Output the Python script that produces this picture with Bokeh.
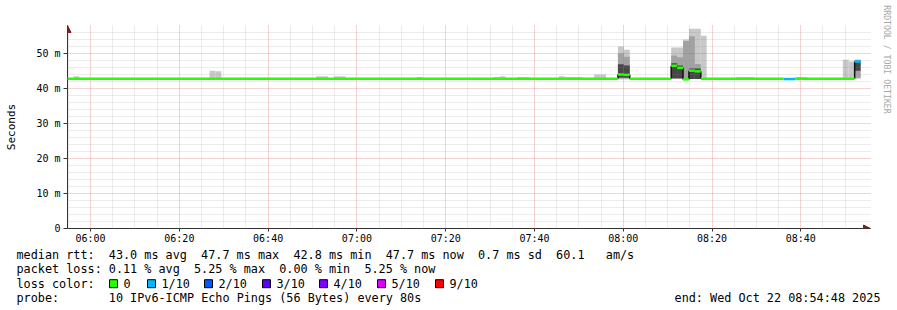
import math
from datetime import datetime, timedelta
from bokeh.plotting import figure
from bokeh.layouts import column, row
from bokeh.models import (Range1d, FixedTicker, DatetimeTickFormatter, Label,
                          Arrow, NormalHead)
from bokeh.core.properties import value
from bokeh.embed import file_html
from bokeh.resources import INLINE

# ---------------- data ----------------
DAY = "2025-10-22"
range_start = "05:54:48"
range_end = "08:54:48"
step_seconds = 80

x_major_ticks = ["06:00", "06:20", "06:40", "07:00", "07:20", "07:40", "08:00", "08:20", "08:40"]
y_major_ticks = [0, 10, 20, 30, 40, 50]
y_tick_labels = ["0", "10 m", "20 m", "30 m", "40 m", "50 m"]

# median rtt (ms), run-length: value holds from time until next entry
median_time = ["05:54:48", "07:58:48", "08:00:08", "08:01:28", "08:10:48", "08:12:08",
               "08:13:28", "08:14:48", "08:16:08", "08:17:28", "08:36:08", "08:38:48",
               "08:52:08"]
median_ms = [42.8, 44.0, 43.9, 42.8, 46.5, 45.9, 42.6, 45.1, 44.9, 42.8, 42.7, 42.8, 47.7]
median_loss = [0, 0, 0, 0, 0, 0, 0, 0, 0, 0, 1, 0, 1]   # lost pings out of 10
median_end = "08:53:28"

# smoke (ping spread) per 80 s step
smoke_time = ["05:56:08", "06:26:48", "06:28:08", "06:50:48", "06:52:08", "06:54:48",
              "06:56:08", "07:13:28", "07:30:48", "07:32:08", "07:36:08", "07:37:28",
              "07:45:28", "07:46:48", "07:48:08", "07:49:28", "07:53:28", "07:54:48",
              "07:58:48", "08:00:08", "08:10:48", "08:12:08", "08:13:28", "08:14:48",
              "08:16:08", "08:17:28", "08:25:28", "08:26:48", "08:28:08", "08:38:48",
              "08:40:08", "08:49:28", "08:50:48", "08:52:08"]
smoke_lo = [42.7, 42.7, 42.7, 42.7, 42.7, 42.7, 42.7, 42.7, 42.7, 42.7, 42.7, 42.7,
            42.7, 42.7, 42.7, 42.7, 42.7, 42.7, 42.6, 42.6, 42.7, 42.7, 42.6, 42.7,
            42.7, 42.8, 42.7, 42.7, 42.7, 42.7, 42.7, 42.8, 42.8, 42.9]
smoke_hi = [43.5, 45.1, 44.9, 43.5, 43.5, 43.5, 43.5, 43.3, 43.3, 43.5, 43.3, 43.3,
            43.5, 43.3, 43.3, 43.3, 44.0, 44.0, 52.0, 51.1, 51.7, 51.7, 54.0, 57.1,
            57.1, 55.1, 43.3, 43.3, 43.3, 43.3, 43.3, 48.2, 47.7, 48.3]
nan = float("nan")
mid_lo = [nan] * 18 + [42.9, 42.9, 42.8, 42.8, 42.7, 43.0, 43.0, nan] + [nan] * 7 + [42.9]
mid_hi = [nan] * 18 + [50.0, 49.1, 49.4, 48.9, 53.6, 54.9, 47.0, nan] + [nan] * 7 + [48.0]
core_lo = [nan] * 18 + [43.1, 43.1, 42.9, 42.9, nan, 42.7, 42.7, nan] + [nan] * 7 + [45.1]
core_hi = [nan] * 18 + [46.9, 46.6, 47.2, 46.6, nan, 45.7, 45.7, nan] + [nan] * 7 + [48.0]

loss_levels = [0, 1, 2, 3, 4, 5, 9]
loss_names = ["0", "1/10", "2/10", "3/10", "4/10", "5/10", "9/10"]
loss_colors = ["#26ff00", "#00b8ff", "#0059ff", "#5e00ff", "#7e00ff", "#dd00ff", "#ff0000"]

rtt_avg, rtt_max, rtt_min, rtt_now, rtt_sd, rtt_ams = 43.0, 47.7, 42.8, 47.7, 0.7, 60.1
loss_avg, loss_max, loss_min, loss_now = 0.11, 5.25, 0.00, 5.25
probe_text = "10 IPv6-ICMP Echo Pings (56 Bytes) every 80s"
end_text = "Wed Oct 22 08:54:48 2025"
title_text = "Last 3 Hours"
y_label = "Seconds"
watermark = "RRDTOOL / TOBI OETIKER"

# ---------------- helpers ----------------
EPOCH = datetime(1970, 1, 1)


def ts(hms):
    return datetime.fromisoformat(f"{DAY}T{hms}")


def ms(dt):
    return (dt - EPOCH).total_seconds() * 1000.0


MONO = "DejaVu Sans Mono"
t0, t1 = ms(ts(range_start)), ms(ts(range_end))
step_ms = step_seconds * 1000.0
PX_PER_MIN = 4.4375                   # horizontal scale (pixels per minute)
x_end = t1 + 4 / PX_PER_MIN * 60000   # frame reaches to the x-axis arrow tip

MAIN_W, MAIN_H = 880, 248
p = figure(width=MAIN_W, height=MAIN_H, x_axis_type="datetime",
           x_range=Range1d(t0, x_end), y_range=Range1d(0, 58),
           output_backend="svg", toolbar_location=None,
           min_border_left=67, min_border_right=10, min_border_top=25, min_border_bottom=20)
p.frame_align = False
p.outline_line_color = None
p.background_fill_color = "#ffffff"
p.border_fill_color = "#ffffff"

# smoke layers
def quads(lo, hi, color):
    L, R, B, T = [], [], [], []
    for t, a, b in zip(smoke_time, lo, hi):
        if math.isnan(a) or math.isnan(b):
            continue
        s = ms(ts(t))
        L.append(s); R.append(s + step_ms); B.append(a); T.append(b)
    p.quad(left=L, right=R, bottom=B, top=T, fill_color=color, line_color=None)

quads(smoke_lo, smoke_hi, "#c8c8c8")
quads(mid_lo, mid_hi, "#a2a2a2")
quads(core_lo, core_hi, "#464646")

# median line
lc = dict(zip(loss_levels, loss_colors))
hx0, hx1, hy, hc = [], [], [], []
vx, vy0, vy1 = [], [], []
for k, (t, v, l) in enumerate(zip(median_time, median_ms, median_loss)):
    s = ms(ts(t))
    e = ms(ts(median_time[k + 1])) if k + 1 < len(median_time) else ms(ts(median_end))
    hx0.append(s); hx1.append(e); hy.append(v); hc.append(lc[l])
    if k > 0 and abs(v - median_ms[k - 1]) >= 0.5:
        vx.append(s); vy0.append(median_ms[k - 1]); vy1.append(v)
p.segment(x0=vx, y0=vy0, x1=vx, y1=vy1, line_color="#111111", line_width=1.5, level="overlay")
p.segment(x0=hx0, y0=hy, x1=hx1, y1=hy, line_color=hc, line_width=2.5, level="overlay")

# axes / ticks
xmaj = [ms(ts(h)) for h in x_major_ticks]
xmin = []
m = ts(range_start).replace(second=0) + timedelta(minutes=1)
while ms(m) <= t1:
    if m.minute % 5 == 0 and ms(m) not in xmaj:
        xmin.append(ms(m))
    m += timedelta(minutes=1)
p.xaxis.ticker = FixedTicker(ticks=xmaj, minor_ticks=xmin)
p.xaxis.formatter = DatetimeTickFormatter(minsec="%H:%M", minutes="%H:%M", hourmin="%H:%M",
                                          hours="%H:%M", days="%H:%M")
ymin = [v for v in range(2, 58, 2) if v % 10 != 0]
p.yaxis.ticker = FixedTicker(ticks=y_major_ticks, minor_ticks=ymin)
p.yaxis.major_label_overrides = {v: s for v, s in zip(y_major_ticks, y_tick_labels)}

for ax in (p.xaxis[0], p.yaxis[0]):
    ax.axis_line_color = "#333333"
    ax.major_tick_line_color = "#333333"
    ax.minor_tick_out = 0
    ax.minor_tick_in = 0
    ax.major_tick_in = 0
    ax.major_label_text_font = MONO
    ax.major_label_text_font_size = "10px"
    ax.major_label_text_color = "#000000"
p.xaxis.major_tick_out = 3
p.xaxis.major_label_standoff = 1
p.yaxis.major_tick_out = 4
p.yaxis.major_label_standoff = 3
p.yaxis.axis_label = y_label
p.yaxis.axis_label_text_font = MONO
p.yaxis.axis_label_text_font_size = "11px"
p.yaxis.axis_label_text_font_style = "normal"
p.yaxis.axis_label_text_color = "#000000"
p.yaxis.axis_label_standoff = 15

for g in (p.xgrid[0], p.ygrid[0]):
    g.level = "annotation"
    g.grid_line_color = "#de5050"
    g.grid_line_alpha = 0.5
    g.grid_line_dash = "1 1"
    g.minor_grid_line_color = "#8f8f8f"
    g.minor_grid_line_alpha = 0.35
    g.minor_grid_line_dash = "1 1"

# arrows at axis ends
head = dict(size=7, fill_color="#7f1f1f", line_color="#7f1f1f", line_width=1)
p.add_layout(Arrow(end=NormalHead(**head), x_start=t0, y_start=50, x_end=t0, y_end=58,
                   line_color="#333333", line_width=1))
p.add_layout(Arrow(end=NormalHead(**head), x_start=t1 - 120000, y_start=0, x_end=x_end,
                   y_end=0, line_color="#333333", line_width=1))

# title
p.add_layout(Label(x=381, y=209, x_units="screen", y_units="screen", text=title_text,
                   text_font=MONO, text_font_size="13px", text_align="center",
                   text_baseline="middle", text_color="#000000"))

# ---------------- watermark strip (right edge) ----------------
SIDE_W = 897 - MAIN_W
side = figure(width=SIDE_W, height=MAIN_H, x_range=Range1d(0, SIDE_W),
              y_range=Range1d(0, MAIN_H), output_backend="svg", toolbar_location=None,
              min_border=0, x_axis_location=None, y_axis_location=None)
side.frame_align = False
side.grid.visible = False
side.outline_line_color = None
side.background_fill_color = "#ffffff"
side.border_fill_color = "#ffffff"
side.text(x=[886 - MAIN_W], y=[MAIN_H - 59], text=[watermark], angle=-math.pi / 2,
          text_font=value(MONO), text_font_size=value("8.2px"), text_align="center",
          text_baseline="middle", text_color="#a8a8a8")

# ---------------- legend area ----------------
LEG_H = 310 - MAIN_H
leg = figure(width=897, height=LEG_H, x_range=Range1d(0, 897), y_range=Range1d(LEG_H, 0),
             output_backend="svg", toolbar_location=None, min_border=0,
             x_axis_location=None, y_axis_location=None)
leg.frame_align = False
leg.grid.visible = False
leg.outline_line_color = None
leg.background_fill_color = "#ffffff"
leg.border_fill_color = "#ffffff"

CW = 7.1
X0 = 16
rows_y = [254 - MAIN_H, 268.5 - MAIN_H, 283 - MAIN_H, 297.5 - MAIN_H]
tx, ty, tt = [], [], []

def put(col, row_i, s):
    tx.append(X0 + col * CW); ty.append(rows_y[row_i]); tt.append(s)

put(0, 0, "median rtt:")
put(13, 0, f"{rtt_avg:.1f} ms avg")
put(26, 0, f"{rtt_max:.1f} ms max")
put(39, 0, f"{rtt_min:.1f} ms min")
put(52, 0, f"{rtt_now:.1f} ms now")
put(65, 0, f"{rtt_sd:.1f} ms sd")
put(76, 0, f"{rtt_ams:.1f}")
put(83, 0, "am/s")
put(0, 1, "packet loss:")
put(13, 1, f"{loss_avg:.2f} % avg")
put(25, 1, f"{loss_max:.2f} % max")
put(37, 1, f"{loss_min:.2f} % min")
put(49, 1, f"{loss_now:.2f} % now")
put(0, 2, "loss color:")
put(0, 3, "probe:")
put(13, 3, probe_text)

sq_left = [109, 147, 204, 262, 319, 377, 435]
for xl, name in zip(sq_left, loss_names):
    tx.append(xl + 14); ty.append(rows_y[2]); tt.append(name)

leg.text(x=tx, y=ty, text=tt, text_font=value(MONO), text_font_size=value("11.8px"),
         text_align="left", text_baseline="middle", text_color="#000000")
leg.text(x=[880], y=[rows_y[3]], text=["end: " + end_text], text_font=value(MONO),
         text_font_size=value("11.8px"), text_align="right", text_baseline="middle",
         text_color="#000000")
leg.rect(x=[xl + 4 for xl in sq_left], y=[rows_y[2] + 0.2] * len(sq_left), width=8, height=8,
         fill_color=loss_colors, line_color="#000000", line_width=1)

layout = column(row(p, side, spacing=0), leg, spacing=0)
open("out.html", "w").write(file_html(layout, INLINE))
